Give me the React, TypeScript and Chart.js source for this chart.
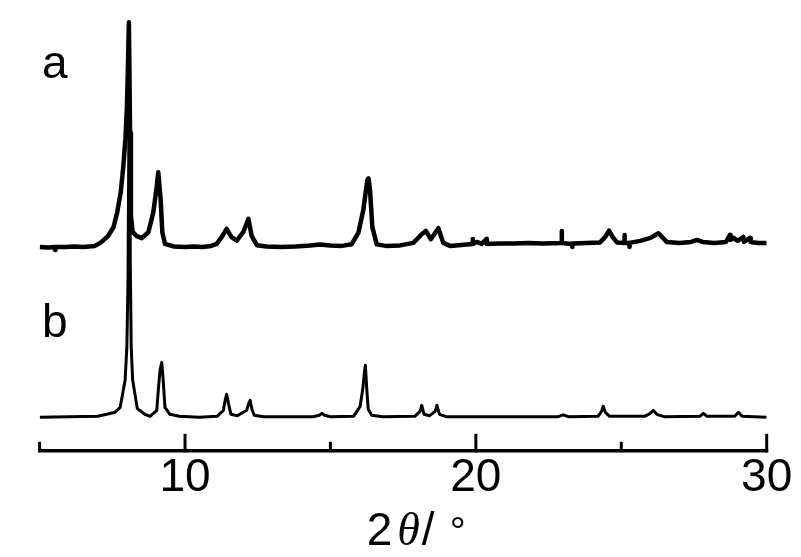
import { useEffect, useRef } from "react";
import { Chart, registerables } from "chart.js";

Chart.register(...registerables);

// ---- data (2θ in degrees, intensity in arbitrary units) ----
const thetaA = [
  5.0, 5.3, 5.52, 5.53, 5.55, 5.9, 6.2, 6.5, 6.9, 7.12, 7.35, 7.54, 7.67, 7.79, 7.88, 7.95, 8.0, 8.03, 8.07,
  8.11, 8.14, 8.2, 8.34, 8.51, 8.74, 8.91, 9.03, 9.08, 9.16, 9.22, 9.31, 9.6, 10.0, 10.3, 10.6, 10.9,
  11.09, 11.26, 11.43, 11.6, 11.78, 12.0, 12.18, 12.29, 12.47, 12.8, 13.3, 13.8, 14.3, 14.64, 15.0, 15.4,
  15.73, 15.96, 16.13, 16.27, 16.31, 16.36, 16.44, 16.59, 16.9, 17.4, 17.85, 18.14, 18.28, 18.45, 18.71,
  18.88, 19.11, 19.5, 19.88, 19.89, 19.9, 20.03, 20.2, 20.37, 20.38, 20.8, 21.3, 21.8, 22.3, 22.94, 22.95,
  22.96, 23.3, 23.31, 23.32, 23.8, 24.27, 24.45, 24.58, 24.7, 24.85, 25.1, 25.11, 25.12, 25.27, 25.28,
  25.29, 25.65, 26.0, 26.28, 26.4, 26.56, 27.0, 27.4, 27.6, 27.8, 28.2, 28.6, 28.74, 28.76, 28.86, 29.0,
  29.2, 29.22, 29.43, 29.45, 29.7, 30.0,
];
const intensityA = [
  0, -0.5, 0, -3, 0, 0, 0.5, 0, 1, 4.7, 10.7, 19.7, 34.7, 54.7, 81.3, 108, 138, 171, 224.7,
  114, 31, 15, 10.7, 8.7, 14.7, 34.7, 61, 74.7, 48, 14.7, 3, 0.5, 0, 0.5, 0, 1,
  3, 9.7, 18, 9.7, 6.3, 14.7, 28, 11, 1.7, 0.5, 0, 0.5, 1.5, 2.5, 1.5, 1,
  2.7, 14, 37, 67, 68.5, 57, 20, 2.5, 1, 1.5, 4, 12.7, 16, 7.7, 18.7,
  4, 1, 2, 3, 8, 3, 5, 3, 8, 3, 3.5, 3.5, 4, 3.5, 4, 16,
  4, 3, 0, 3.5, 4, 4.5, 10, 16.3, 10, 4.5, 4, 12, 4, 4, 0,
  4, 6, 9, 13.7, 10, 5, 4, 5, 7, 5, 4, 5, 12, 7, 9, 6,
  10, 5, 9, 5, 4, 4,
];

const thetaB = [
  5.0, 7.0, 7.31, 7.59, 7.77, 7.94, 8.0, 8.02, 8.04, 8.09, 8.12, 8.15, 8.2, 8.36, 8.62, 8.8,
  9.03, 9.08, 9.14, 9.2, 9.25, 9.31, 9.48, 9.8, 10.5, 11.1, 11.32, 11.38, 11.43, 11.5, 11.58, 11.8,
  12.12, 12.18, 12.24, 12.3, 12.38, 12.7, 14.4, 14.62, 14.71, 14.8, 15.0, 15.8, 16.02, 16.11, 16.17,
  16.2, 16.25, 16.3, 16.42, 16.8, 17.9, 18.08, 18.14, 18.22, 18.4, 18.6, 18.66, 18.75, 19.0, 22.8,
  23.01, 23.2, 24.2, 24.32, 24.38, 24.45, 24.6, 25.8, 26.0, 26.1, 26.22, 26.5, 27.7, 27.82, 27.95,
  28.9, 29.03, 29.15, 30.0,
];
const intensityB = [
  0, 1, 3, 5, 10, 37, 70, 104, 137, 387, 150, 70, 37, 8.7, 3, 1,
  7, 27, 47, 55, 37, 10, 3, 1, 0, 1, 7, 17, 23, 13, 3, 1.5,
  7, 13, 17, 8, 2, 0.5, 0.5, 2, 4, 2, 0.5, 1, 11, 28, 45,
  52, 28, 8, 2, 0.5, 1, 6, 12, 3, 1.5, 6, 12, 3, 0.5, 0.5,
  2.5, 0.5, 1, 6, 11, 5, 1, 1, 4, 7, 3, 0.5, 1, 4, 1,
  1, 5, 1, 0,
];

const OFFSET_A = 204;
const OFFSET_B = 33.5;
const Y_MAX = 431;

const X_MIN = 5;
const X_MAX = 30;
const X_TICKS = [5, 10, 15, 20, 25, 30];
const X_LABELS = ["", "10", "", "20", "", "30"];

const SERIES_NAMES = ["a", "b"];
const SERIES_NAME_X = [5.08, 5.08];
const SERIES_NAME_Y = [373, 114];

const SANS = '"Liberation Sans Narrow", "Liberation Sans", Arial, sans-serif';
const SERIF = '"Liberation Serif", "Times New Roman", serif';

const decorPlugin = {
  id: "decor",
  afterDraw(chart: any) {
    const ctx = chart.ctx;
    const xs = chart.scales.x;
    const ys = chart.scales.y;
    const y0 = chart.chartArea.bottom;
    ctx.save();
    ctx.strokeStyle = "#000";
    ctx.fillStyle = "#000";
    ctx.lineCap = "butt";
    // axis line
    ctx.lineWidth = 3.5;
    ctx.beginPath();
    ctx.moveTo(xs.getPixelForValue(X_MIN) - 1.5, y0);
    ctx.lineTo(xs.getPixelForValue(X_MAX) + 1.5, y0);
    ctx.stroke();
    // inward ticks
    ctx.lineWidth = 3;
    X_TICKS.forEach((v, i) => {
      const px = xs.getPixelForValue(v);
      const len = X_LABELS[i] ? 17 : 9;
      ctx.beginPath();
      ctx.moveTo(px, y0 + 1.5);
      ctx.lineTo(px, y0 - len);
      ctx.stroke();
    });
    // series names
    ctx.font = `46px ${SANS}`;
    ctx.textAlign = "left";
    ctx.textBaseline = "alphabetic";
    SERIES_NAMES.forEach((n, i) => {
      ctx.fillText(n, xs.getPixelForValue(SERIES_NAME_X[i]), ys.getPixelForValue(SERIES_NAME_Y[i]));
    });
    // axis title: 2θ/ °
    const parts = [
      { t: "2", f: `46px ${SANS}`, gap: 5 },
      { t: "θ", f: `italic 46px ${SERIF}`, gap: 2 },
      { t: "/", f: `46px ${SANS}`, gap: 15 },
      { t: "°", f: `40px ${SANS}`, gap: 0 },
    ];
    let total = 0;
    parts.forEach((p) => {
      ctx.font = p.f;
      total += ctx.measureText(p.t).width + p.gap;
    });
    let x = (chart.chartArea.left + chart.chartArea.right) / 2 + 13 - total / 2;
    const base = y0 + 94;
    parts.forEach((p) => {
      ctx.font = p.f;
      ctx.fillText(p.t, x, base);
      x += ctx.measureText(p.t).width + p.gap;
    });
    ctx.restore();
  },
};

export default function App() {
  const ref = useRef<HTMLCanvasElement | null>(null);
  useEffect(() => {
    if (!ref.current) return;
    const chart = new Chart(ref.current, {
      type: "line",
      data: {
        datasets: [
          {
            label: SERIES_NAMES[0],
            data: thetaA.map((t, i) => ({ x: t, y: intensityA[i] + OFFSET_A })),
            borderColor: "#000",
            borderWidth: 4.5,
            pointRadius: 0,
            tension: 0,
            fill: false,
            borderJoinStyle: "round",
          },
          {
            label: SERIES_NAMES[1],
            data: thetaB.map((t, i) => ({ x: t, y: intensityB[i] + OFFSET_B })),
            borderColor: "#000",
            borderWidth: 3,
            pointRadius: 0,
            tension: 0,
            fill: false,
            borderJoinStyle: "round",
          },
        ],
      },
      options: {
        animation: false,
        responsive: false,
        maintainAspectRatio: false,
        devicePixelRatio: 1,
        layout: { padding: { left: 39.6, right: 34.3, top: 20, bottom: 51 } },
        plugins: { legend: { display: false }, tooltip: { enabled: false } },
        scales: {
          x: {
            type: "linear",
            min: X_MIN,
            max: X_MAX,
            afterBuildTicks: (axis: any) => {
              axis.ticks = X_TICKS.map((v) => ({ value: v }));
            },
            grid: { display: false, drawTicks: false },
            border: { display: false },
            ticks: {
              autoSkip: false,
              maxRotation: 0,
              padding: 0,
              color: "#000",
              font: { family: SANS, size: 46 },
              callback: (v: any) => {
                const i = X_TICKS.indexOf(Number(v));
                return i >= 0 ? X_LABELS[i] : "";
              },
            },
          },
          y: { display: false, min: 0, max: Y_MAX },
        },
      },
      plugins: [decorPlugin],
    } as any);
    return () => chart.destroy();
  }, []);
  return (
    <div style={{ position: "fixed", left: 0, top: 0, width: 801, height: 557, background: "#fff" }}>
      <canvas ref={ref} width={801} height={557} style={{ width: 801, height: 557, display: "block" }} />
    </div>
  );
}
